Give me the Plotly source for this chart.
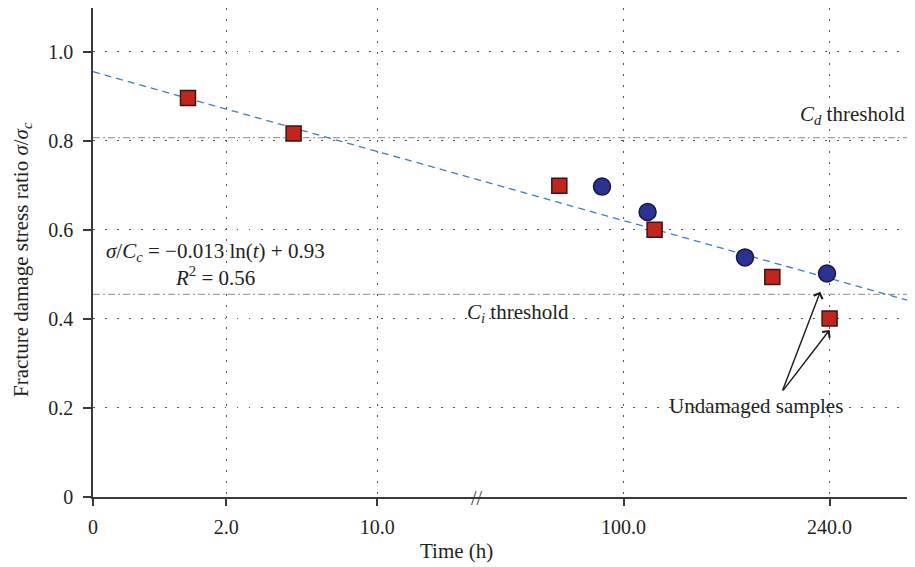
import plotly.graph_objects as go

# ---- broken time axis: tick positions in axis units (0 = t of 0 h) ----
tick_labels = ["0", "2.0", "10.0", "100.0", "240.0"]
tick_pos = [0, 133.3, 284.3, 530.6, 736.6]
x_end = 814
break_pos = 384

y_tick_vals = [0, 0.2, 0.4, 0.6, 0.8, 1.0]
y_tick_labels = ["0", "0.2", "0.4", "0.6", "0.8", "1.0"]

# ---- measurements ----
square_x = [95, 200.6, 466.3, 561.6, 679.3, 736.6]
square_y = [0.896, 0.816, 0.699, 0.600, 0.494, 0.401]

circle_x = [509, 554.6, 652, 734]
circle_y = [0.697, 0.640, 0.538, 0.502]

# logarithmic fit drawn across the whole axis
fit_x = [0, 814]
fit_y = [0.955, 0.442]

cd_threshold = 0.807
ci_threshold = 0.455

FONT = "Liberation Serif, Times New Roman, serif"
TXT = "#231f20"
AX = "#3a3a3a"

fig = go.Figure()

# threshold lines (dash-dot)
for lvl in (cd_threshold, ci_threshold):
    fig.add_trace(go.Scatter(
        x=[0, x_end], y=[lvl, lvl], mode="lines",
        line=dict(color="#a0a0a0", width=1.4, dash="7px,3px,2px,3px"),
        hoverinfo="skip", showlegend=False))

# fitted trend
fig.add_trace(go.Scatter(
    x=fit_x, y=fit_y, mode="lines",
    line=dict(color="#3d7dcc", width=1.3, dash="7px,5px"),
    hoverinfo="skip", showlegend=False))

fig.add_trace(go.Scatter(
    x=circle_x, y=circle_y, mode="markers",
    marker=dict(symbol="circle", size=17, color="#2c3290",
                line=dict(color="#17183f", width=1.5)),
    showlegend=False))

fig.add_trace(go.Scatter(
    x=square_x, y=square_y, mode="markers",
    marker=dict(symbol="square", size=15, color="#c1261e",
                line=dict(color="#3b1512", width=1.5)),
    showlegend=False))

ann = [
    dict(x=122, y=0.551,
         text="<i>σ</i>/<i>C</i><sub><i>c</i></sub> = −0.013 ln(<i>t</i>) + 0.93",
         showarrow=False),
    dict(x=122, y=0.494, text="<i>R</i><sup>2</sup> = 0.56", showarrow=False),
    dict(x=x_end, y=0.858, text="<i>C</i><sub><i>d</i></sub> threshold",
         xanchor="right", showarrow=False),
    dict(x=372, y=0.413, text="<i>C</i><sub><i>i</i></sub> threshold",
         xanchor="left", showarrow=False),
    dict(x=663, y=0.204, text="Undamaged samples", showarrow=False),
    dict(x=break_pos, y=0, text="//", showarrow=False, yshift=-1,
         font=dict(size=20, color=AX)),
    dict(xref="paper", yref="paper", x=(456 - 93) / 814, y=-(551 - 497) / 489,
         xanchor="center", yanchor="middle",
         text="Time (h)", showarrow=False),
    dict(xref="paper", yref="paper", x=-(93 - 22) / 814, y=(497 - 260) / 489,
         xanchor="center", yanchor="middle",
         text="Fracture damage stress ratio <i>σ</i>/<i>σ</i><sub><i>c</i></sub>",
         textangle=-90, showarrow=False),
]

# arrows pointing at the two undamaged samples
for hx, hy in ((circle_x[-1] - 6.7, circle_y[-1] - 0.041), (square_x[-1], square_y[-1] - 0.026)):
    ann.append(dict(x=hx, y=hy, ax=689, ay=0.236, axref="x", ayref="y",
                    text="", showarrow=True, arrowhead=4, arrowsize=1.3,
                    arrowwidth=1.4, arrowcolor="#1a1a1a", standoff=0))

for a in ann:
    a.setdefault("xref", "x")
    a.setdefault("yref", "y")
    a.setdefault("font", dict(size=21))

fig.update_layout(
    width=915, height=567,
    margin=dict(l=93, r=8, t=8, b=70),
    paper_bgcolor="white", plot_bgcolor="white",
    font=dict(family=FONT, size=21, color=TXT),
    annotations=ann,
    xaxis=dict(
        range=[0, x_end], tickmode="array", tickvals=tick_pos, ticktext=tick_labels,
        showline=True, linecolor=AX, linewidth=1.5,
        ticks="outside", ticklen=7, tickwidth=1.5, tickcolor=AX,
        showgrid=True, gridcolor="#555555", gridwidth=1.3, griddash="1.5px,9.5px",
        zeroline=False, tickfont=dict(size=20), ticklabelstandoff=4),
    yaxis=dict(
        range=[0, 1.098], tickmode="array", tickvals=y_tick_vals, ticktext=y_tick_labels,
        showline=True, linecolor=AX, linewidth=1.5,
        ticks="outside", ticklen=8, tickwidth=1.5, tickcolor=AX,
        showgrid=True, gridcolor="#555555", gridwidth=1.3, griddash="1.5px,10.5px",
        zeroline=False, tickfont=dict(size=20), ticklabelstandoff=6),
)

fig.write_html("out.html")
